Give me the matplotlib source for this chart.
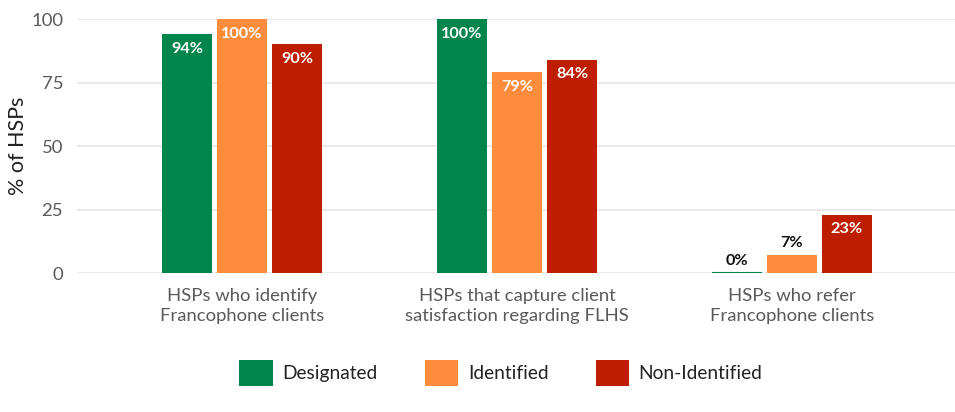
import matplotlib
matplotlib.use("Agg")
import matplotlib.pyplot as plt
from matplotlib.patches import Patch
import numpy as np

plt.rcParams['font.family'] = ['Lato', 'DejaVu Sans']

categories = ["HSPs who identify\nFrancophone clients",
              "HSPs that capture client\nsatisfaction regarding FLHS",
              "HSPs who refer\nFrancophone clients"]
series_names = ["Designated", "Identified", "Non-Identified"]
designated = [94, 100, 0]
identified = [100, 79, 7]
non_identified = [90, 84, 23]
colors = ["#00854D", "#FD8C3C", "#BE1E00"]
yticks = [0, 25, 50, 75, 100]

fig = plt.figure(figsize=(9.55, 4.12), dpi=100)
ax = fig.add_axes([77/955, 1-273/412, 1-77/955, (273-19)/412])

x = np.arange(len(categories))
width = 0.182
offsets = [-0.2, 0, 0.2]
for vals, off, col in zip([designated, identified, non_identified], offsets, colors):
    ax.bar(x + off, vals, width=width, color=col, clip_on=False, zorder=3)
    for xi, v in zip(x + off, vals):
        if v >= 15:
            ax.annotate(f"{v}%", (xi, v), xytext=(0, -10.5), textcoords="offset points",
                        ha="center", va="center", color="white", fontsize=11.7,
                        fontweight="bold", zorder=4)
        else:
            ax.annotate(f"{v}%", (xi, v), xytext=(0, 8.5), textcoords="offset points",
                        ha="center", va="center", color="#111111", fontsize=11.7,
                        fontweight="bold", zorder=4)
    for xi, v in zip(x + off, vals):
        if v == 0:
            ax.plot([xi - width/2, xi + width/2], [0, 0], color=col, lw=1.5, zorder=4,
                    solid_capstyle="butt")

ax.set_xlim(-0.6, 2.593)
ax.set_ylim(0, 100)
ax.set_yticks(yticks)
ax.set_xticks(x)
ax.set_xticklabels(categories, fontsize=13.3, color="#595959", linespacing=1.25)
ax.tick_params(axis="y", length=0, pad=10, labelsize=13.3, labelcolor="#595959")
ax.tick_params(axis="x", length=0, pad=11)
ax.yaxis.grid(True, color="#E6E6E6", lw=1.2, zorder=0)
ax.set_axisbelow(True)
for s in ax.spines.values():
    s.set_visible(False)
ax.set_ylabel("% of HSPs", fontsize=15.5, color="#222222", labelpad=2)

handles = [Patch(facecolor=c, edgecolor="none") for c in colors]
fig.legend(handles, series_names, loc="center", bbox_to_anchor=(501/955, 1-373/412),
           ncol=3, frameon=False, fontsize=13.8, handlelength=1.75, handleheight=1.75,
           handletextpad=0.5, columnspacing=2.45, labelcolor="#222222")

fig.savefig("out.png", dpi=100)
